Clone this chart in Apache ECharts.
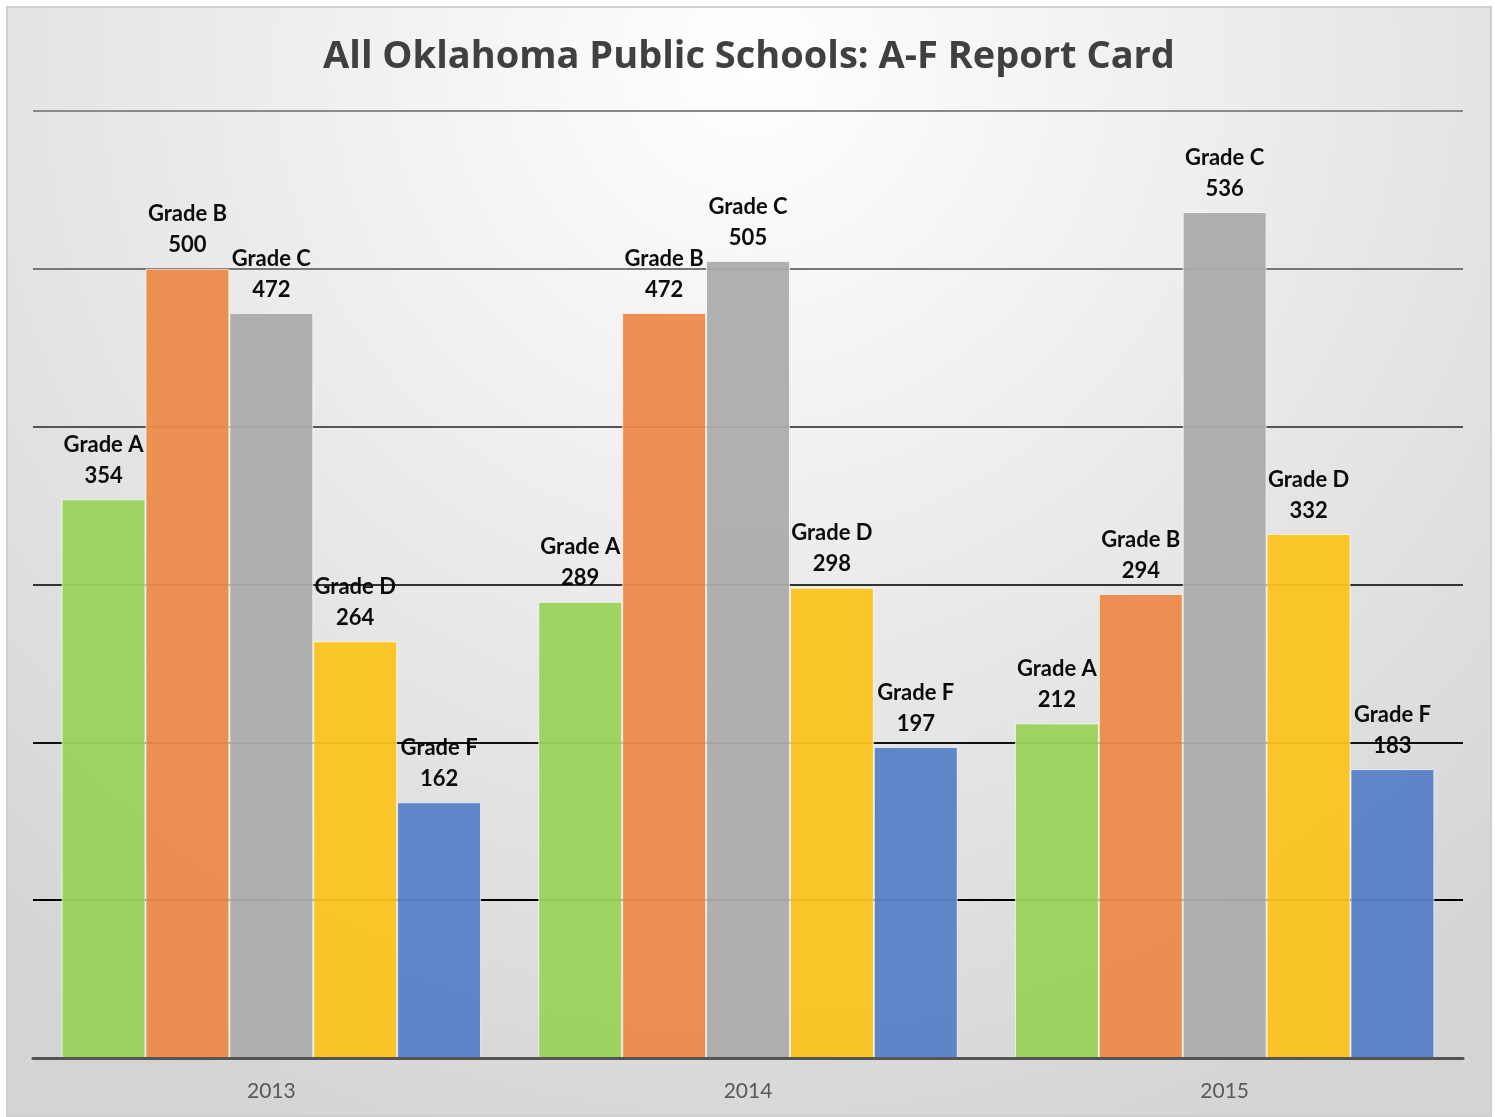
<!DOCTYPE html>
<html>
<head>
<meta charset="utf-8">
<title>All Oklahoma Public Schools: A-F Report Card</title>
<script src="https://cdn.jsdelivr.net/npm/echarts@6/dist/echarts.min.js"></script>
<style>
  html, body { margin: 0; padding: 0; background: #ffffff; }
  #wrap { position: relative; width: 1495px; height: 1117px; }
  #chart {
    position: absolute; left: 6px; top: 6px;
    width: 1486px; height: 1111px;
    box-sizing: border-box;
    border: 2px solid #cfcfcf;
  }
</style>
</head>
<body>
<div id="wrap"><div id="chart"></div></div>
<script>
// Data
const years = ['2013', '2014', '2015']
const gradeA = [354, 289, 212]
const gradeB = [500, 472, 294]
const gradeC = [472, 505, 536]
const gradeD = [264, 298, 332]
const gradeF = [162, 197, 183]

const seriesNames = ['Grade A', 'Grade B', 'Grade C', 'Grade D', 'Grade F']
const seriesData = [gradeA, gradeB, gradeC, gradeD, gradeF]
const colors = ['#9bd25d', '#ec8a4a', '#acacac', '#fbc31f', '#5880c7']

const fontFamily = 'Lato, "Open Sans", sans-serif'

const chart = echarts.init(document.getElementById('chart'), null, { renderer: 'canvas' })

chart.setOption({
  animation: false,
  backgroundColor: new echarts.graphic.RadialGradient(0.5, 0.05, 1.05, [
    { offset: 0, color: '#ffffff' },
    { offset: 1, color: '#d4d4d4' }
  ]),
  title: {
    text: 'All Oklahoma Public Schools: A-F Report Card',
    left: 'center',
    top: 25,
    textStyle: {
      fontFamily: '"Open Sans", sans-serif',
      fontSize: 38,
      fontWeight: 'bold',
      color: '#404040'
    }
  },
  grid: {
    left: 25,
    top: 103,
    width: 1430,
    height: 947
  },
  xAxis: {
    type: 'category',
    data: years,
    axisLine: { lineStyle: { color: '#555555', width: 3 } },
    axisTick: { show: false },
    axisLabel: {
      color: '#595959',
      fontFamily,
      fontSize: 21,
      margin: 23
    },
    z: 3
  },
  yAxis: {
    type: 'value',
    min: 0,
    max: 600,
    interval: 100,
    axisLine: { show: false },
    axisTick: { show: false },
    axisLabel: { show: false },
    splitLine: {
      lineStyle: {
        width: 2,
        color: ['#000000', '#000000', '#111111', '#333333', '#555555', '#777777', '#8a8a8a']
      }
    }
  },
  series: seriesNames.map((name, i) => ({
    name,
    type: 'bar',
    data: seriesData[i],
    barGap: '0%',
    barCategoryGap: '12%',
    itemStyle: {
      color: colors[i],
      opacity: 0.95,
      borderColor: 'rgba(255,255,255,0.7)',
      borderWidth: 1
    },
    label: {
      show: true,
      position: 'top',
      distance: 8,
      formatter: '{a}\n{c}',
      fontFamily,
      fontSize: 22,
      fontWeight: 'bold',
      lineHeight: 31,
      color: '#000000'
    },
    z: 2
  }))
})
</script>
</body>
</html>
